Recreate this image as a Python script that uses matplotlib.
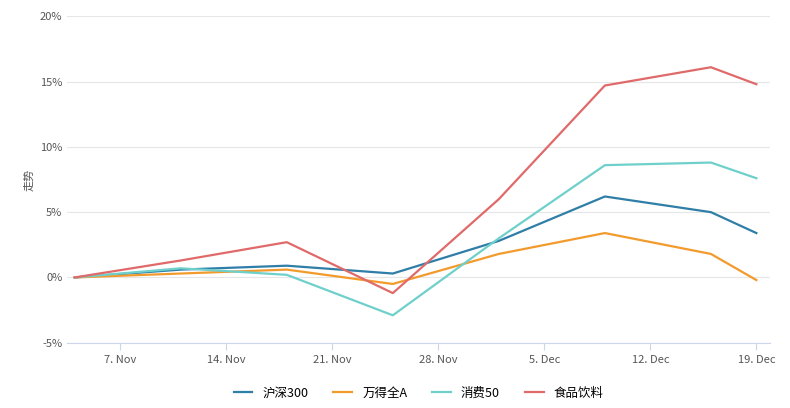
import matplotlib.pyplot as plt
import matplotlib.dates as mdates
import pandas as pd

plt.rcParams['font.family'] = ['Noto Sans CJK SC', 'DejaVu Sans']

dates = pd.to_datetime(["2022-11-04", "2022-11-11", "2022-11-18", "2022-11-25",
                        "2022-12-02", "2022-12-09", "2022-12-16", "2022-12-19"])
hs300 = [0, 0.6, 0.9, 0.3, 2.8, 6.2, 5.0, 3.4]
wind_a = [0, 0.3, 0.6, -0.5, 1.8, 3.4, 1.8, -0.2]
xf50 = [0, 0.7, 0.2, -2.9, 3.0, 8.6, 8.8, 7.6]
food = [0, 1.3, 2.7, -1.2, 6.0, 14.7, 16.1, 14.8]

series = [("沪深300", hs300, "#2f7ea8"), ("万得全A", wind_a, "#f39a2d"),
          ("消费50", xf50, "#6fd0cb"), ("食品饮料", food, "#e06a6a")]

fig, ax = plt.subplots(figsize=(7.9, 4.08), dpi=100)
for name, vals, c in series:
    ax.plot(dates, vals, color=c, lw=1.6, label=name)

ax.set_ylim(-5, 20)
ax.set_yticks([-5, 0, 5, 10, 15, 20])
ax.set_yticklabels([f"{v}%" for v in [-5, 0, 5, 10, 15, 20]])
ax.set_xlim(pd.Timestamp("2022-11-03 12:00"), pd.Timestamp("2022-12-19 22:00"))
ticks = pd.to_datetime(["2022-11-07", "2022-11-14", "2022-11-21", "2022-11-28",
                        "2022-12-05", "2022-12-12", "2022-12-19"])
ax.set_xticks(ticks)
ax.set_xticklabels(["7. Nov", "14. Nov", "21. Nov", "28. Nov", "5. Dec", "12. Dec", "19. Dec"])
ax.grid(axis="y", color="#e6e6e6", lw=0.8)
ax.tick_params(labelsize=8, colors="#555555", length=0)
ax.tick_params(axis="x", length=5, color="#ccd6eb")
for s in ["top", "right", "left"]:
    ax.spines[s].set_visible(False)
ax.spines["bottom"].set_color("#ccd6eb")
ax.set_ylabel("走势", fontsize=8, color="#555555")
ax.legend(loc="upper center", bbox_to_anchor=(0.5, -0.1), ncol=4, frameon=False,
          fontsize=9, handlelength=1.5)
plt.subplots_adjust(left=0.085, right=0.975, top=0.96, bottom=0.16)
plt.savefig("out.png")
